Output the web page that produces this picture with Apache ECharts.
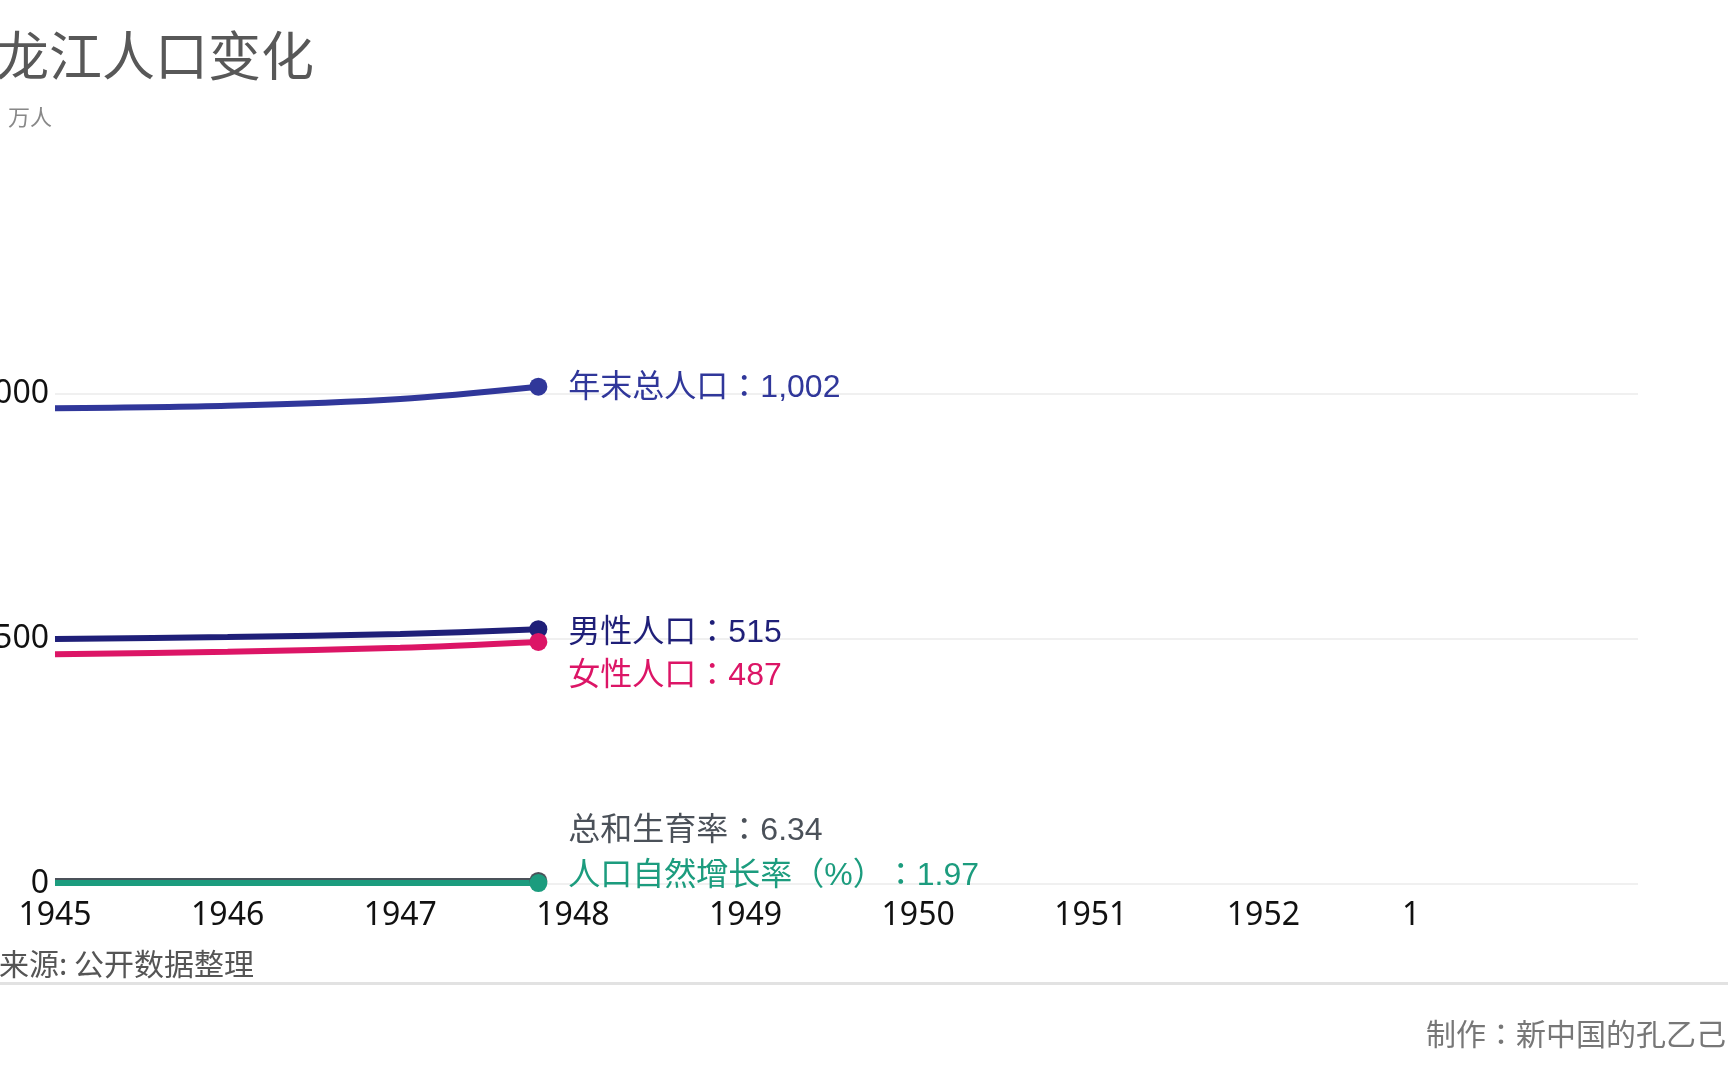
<!doctype html>
<html>
<head>
    <meta charset="UTF-8">
    <script src="https://cdn.jsdelivr.net/npm/echarts@6/dist/echarts.min.js"></script>
    <style>
        html, body { margin: 0; padding: 0; background: #fff; }
        #main { width: 1728px; height: 1080px; }
    </style>
</head>
<body>
<div id="main"></div>
<script type="text/javascript">
    // 年份（最后一点为动画中途的位置）
    var years = [1945, 1946, 1947, 1947.8];
    // 单位：万人
    var totalPop = [971, 976, 990, 1015];
    var malePop = [500, 504, 510, 520];
    var femalePop = [469, 474, 482, 494];
    // 总和生育率、自然增长率(%)
    var fertility = [6.1, 6.2, 6.3, 6.34];
    var growthRate = [1.9, 1.94, 1.96, 1.97];
    // 线尾标签显示的数值
    var endValues = [1002, 515, 487, 6.34, 1.97];

    var xTickLabels = ['1945', '1946', '1947', '1948', '1949', '1950', '1951', '1952', '1      ', ''];
    var yTickValues = [0, 500, 1000];
    var yTickLabels = ['0', '500', '1,000'];

    var seriesNames = ['年末总人口', '男性人口', '女性人口', '总和生育率', '人口自然增长率（%）'];
    var seriesColors = ['#30379a', '#1f1f78', '#dc1566', '#4b5159', '#1c9c7e'];
    var labelOffsets = [2, 4, 34, -50, -7];

    var labelFont = "'Liberation Sans', 'Noto Sans CJK JP', sans-serif";
    var cjkFont = "'Noto Sans CJK SC', sans-serif";

    function pairs(vals) {
        var out = [];
        for (var i = 0; i < vals.length; i++) {
            out.push([years[i], vals[i]]);
        }
        return out;
    }

    function makeLine(idx, vals) {
        var last = vals.length - 1;
        return {
            name: seriesNames[idx],
            type: 'line',
            smooth: 0.3,
            data: pairs(vals),
            symbol: 'circle',
            symbolSize: function (v, p) { return p.dataIndex === last ? 18 : 0; },
            lineStyle: { width: 6, color: seriesColors[idx] },
            itemStyle: { color: seriesColors[idx] },
            endLabel: {
                show: true,
                distance: 30,
                offset: [0, labelOffsets[idx]],
                color: seriesColors[idx],
                fontSize: 32,
                fontFamily: labelFont,
                formatter: function (p) {
                    // 零宽空格避免相邻全角标点被压缩
                    return p.seriesName + '\u200B：' + endValues[idx].toLocaleString('en-US');
                }
            }
        };
    }

    var myChart = echarts.init(document.getElementById('main'));
    var option = {
        animation: false,
        backgroundColor: '#fff',
        title: [{
            text: '黑龙江人口变化',
            left: -62,
            top: 24,
            textStyle: { fontSize: 53, fontWeight: 'normal', color: '#585858', fontFamily: cjkFont }
        }, {
            text: '万人',
            left: 3,
            top: 101,
            textStyle: { fontSize: 22, fontWeight: 'normal', color: '#888', fontFamily: cjkFont }
        }, {
            text: '数据来源: 公开数据整理',
            left: -66,
            top: 944,
            textStyle: { fontSize: 30, fontWeight: 'normal', color: '#555', fontFamily: cjkFont }
        }, {
            text: '制作：新中国的孔乙己',
            right: -3,
            top: 1014,
            textStyle: { fontSize: 30, fontWeight: 'normal', color: '#777', fontFamily: "'Noto Sans CJK JP', sans-serif" }
        }],
        graphic: [{
            type: 'rect',
            left: 0,
            top: 982,
            shape: { width: 1728, height: 3 },
            style: { fill: '#e2e2e2' }
        }],
        grid: {
            left: 55,
            right: 90,
            top: 198,
            bottom: 196,
            containLabel: false,
            outerBoundsMode: 'none'
        },
        xAxis: {
            type: 'value',
            min: 1945,
            max: 1954.17,
            interval: 1,
            axisLine: { show: false },
            axisTick: { show: false },
            splitLine: { show: false },
            axisLabel: {
                margin: 16,
                fontSize: 32,
                color: '#111',
                fontFamily: "'Noto Sans', sans-serif",
                showMaxLabel: false,
                formatter: function (v) {
                    var i = Math.round(v - 1945);
                    return xTickLabels[i] || '';
                }
            }
        },
        yAxis: {
            type: 'value',
            min: 0,
            max: 1400,
            interval: 500,
            axisLine: { show: false },
            axisTick: { show: false },
            splitLine: { show: true, showMaxLine: false, lineStyle: { color: '#ebebeb', width: 1.5 } },
            axisLabel: {
                margin: 6,
                fontSize: 32,
                color: '#111',
                fontFamily: "'Noto Sans', sans-serif",
                showMaxLabel: false,
                formatter: function (v) {
                    var i = yTickValues.indexOf(v);
                    return i >= 0 ? yTickLabels[i] : '';
                }
            }
        },
        series: [
            makeLine(0, totalPop),
            makeLine(1, malePop),
            makeLine(2, femalePop),
            makeLine(3, fertility),
            makeLine(4, growthRate)
        ]
    };
    myChart.setOption(option);
</script>
</body>
</html>
